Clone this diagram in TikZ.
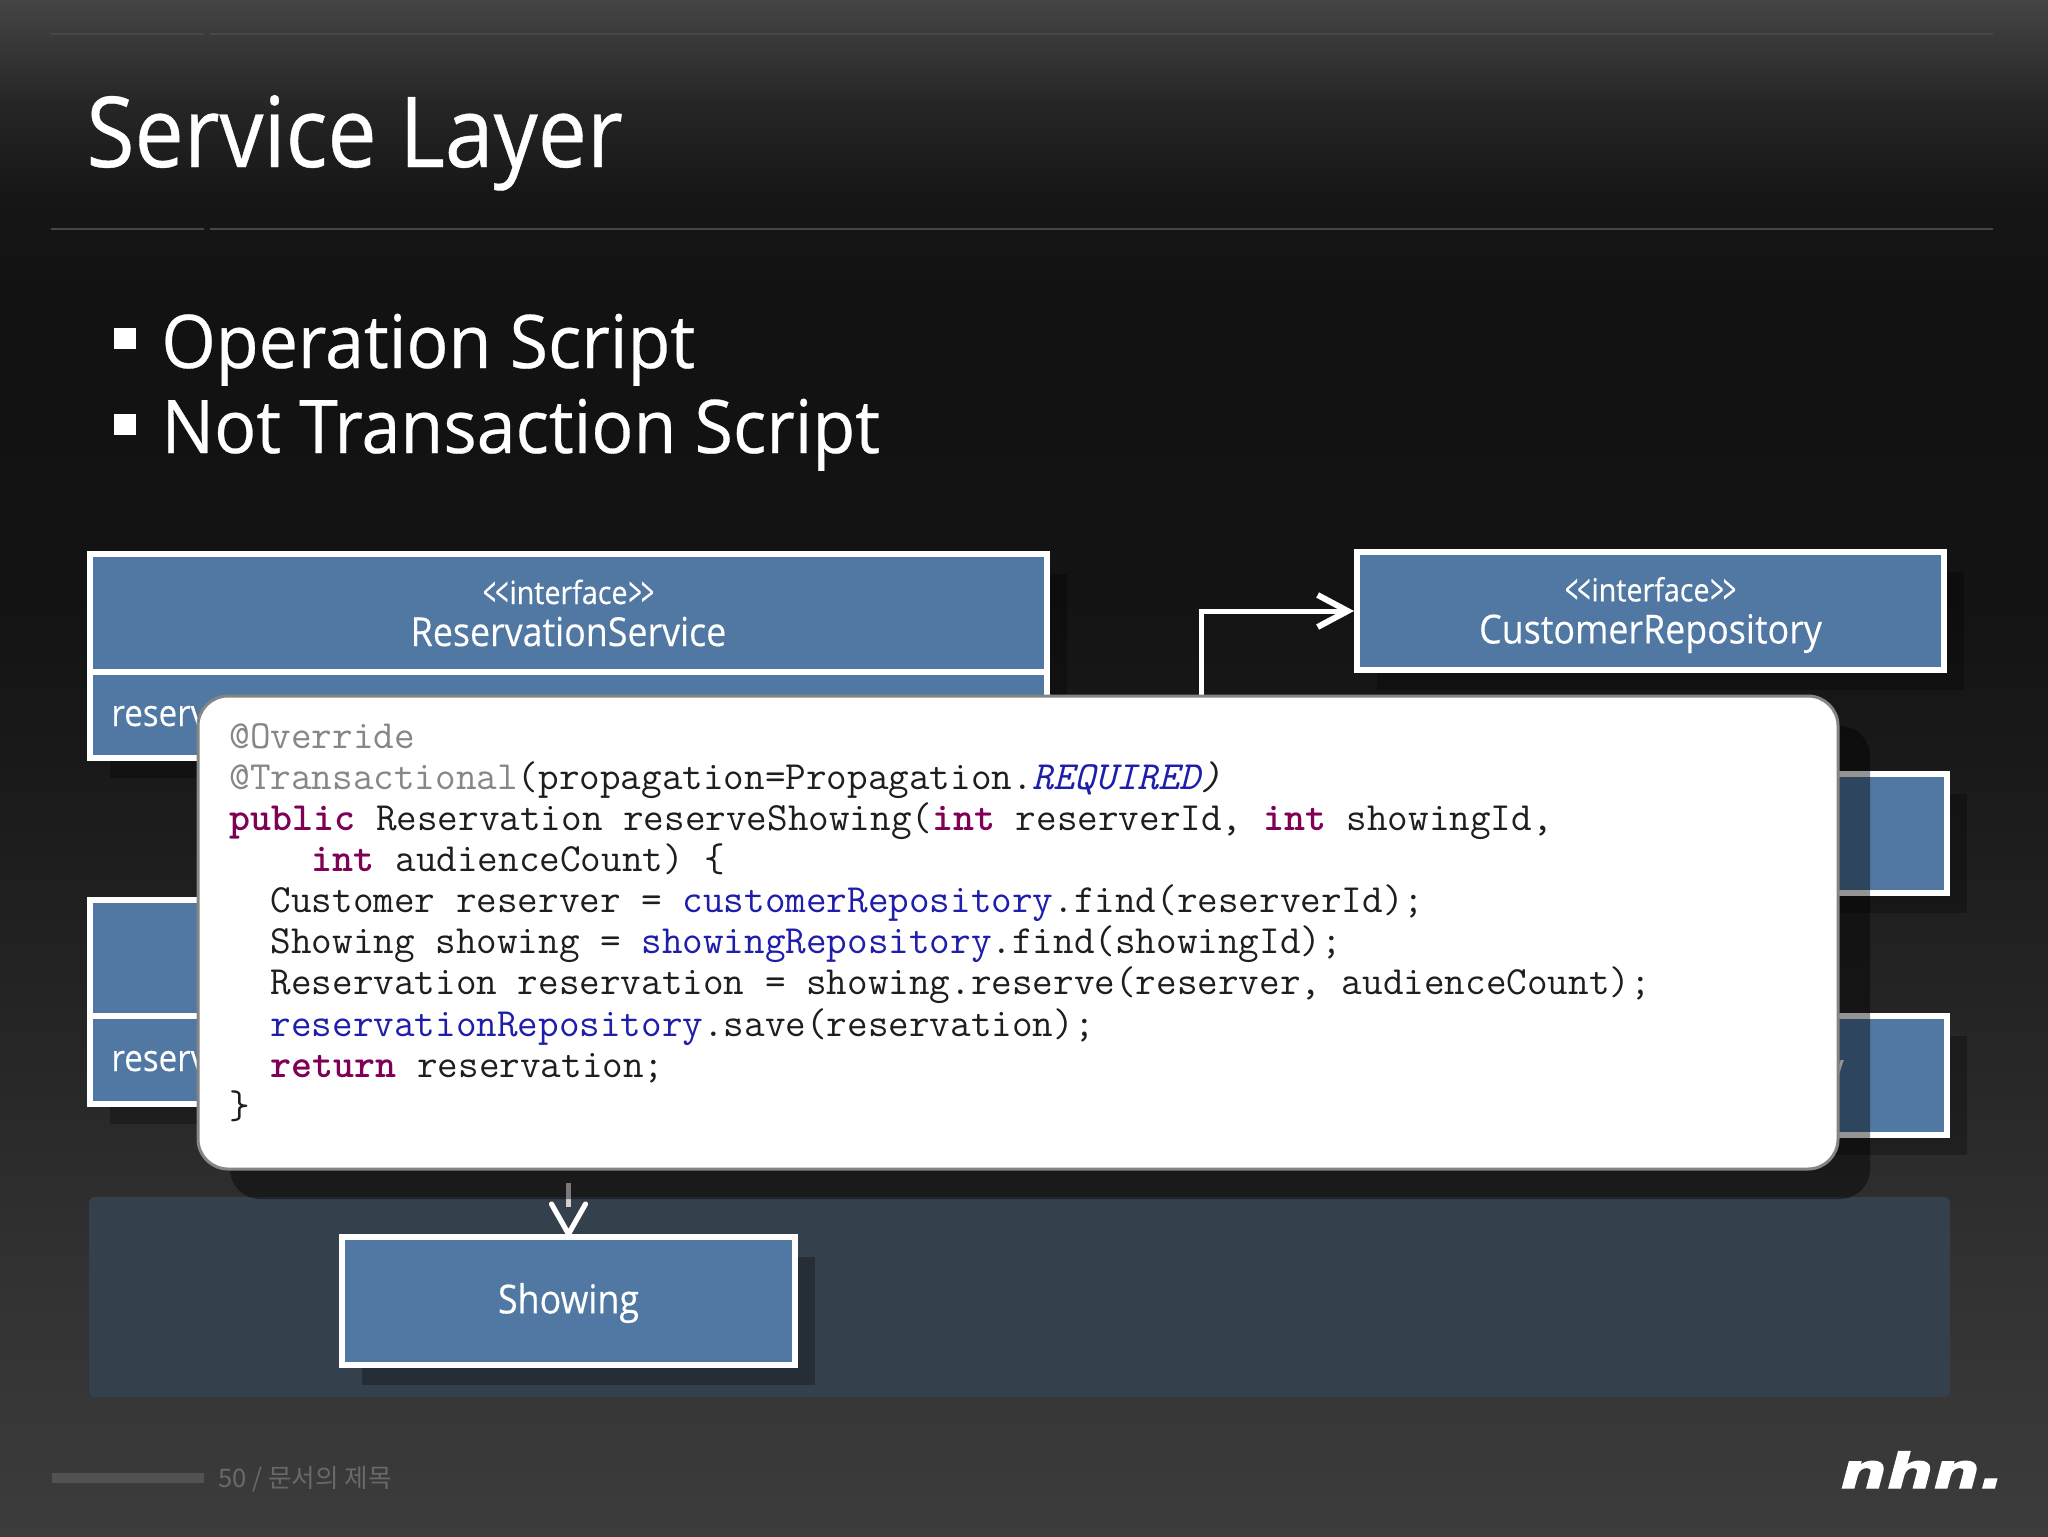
\documentclass[tikz,border=0pt]{standalone}
\usepackage{fontspec}
\usepackage{graphicx}
\setmainfont[FakeStretch=0.945,FakeBold=0.4]{Open Sans}
\newfontfamily\titlefont[FakeStretch=0.895,FakeBold=0.4]{Open Sans}
\newfontfamily\boxfont[FakeStretch=0.895,FakeBold=0.25]{Open Sans}
\newfontfamily\cjkfont{Noto Sans CJK KR}
\newfontfamily\logofont[FakeStretch=1.36,FakeBold=2.6]{DejaVu Sans}
\usetikzlibrary{positioning,arrows.meta,shadows}
\definecolor{boxblue}{RGB}{80,120,162}
\definecolor{bandblue}{RGB}{52,64,76}
\definecolor{kwcolor}{RGB}{127,0,85}
\definecolor{fieldcolor}{RGB}{30,30,170}
\definecolor{anncolor}{RGB}{135,135,135}
\definecolor{codecolor}{RGB}{30,30,30}
\pgfdeclareverticalshading{slidebg}{100bp}{rgb(0bp)=(.235,.235,.235); rgb(25bp)=(.235,.235,.235); rgb(32.7bp)=(.2,.2,.2); rgb(39.2bp)=(.16,.16,.16); rgb(49bp)=(.105,.105,.105); rgb(55.5bp)=(.075,.075,.075); rgb(65.2bp)=(.07,.07,.07); rgb(68.5bp)=(.085,.085,.085); rgb(71.7bp)=(.15,.15,.15); rgb(73.9bp)=(.23,.23,.23); rgb(75bp)=(.27,.27,.27); rgb(100bp)=(.27,.27,.27)}
\tikzset{umlbox/.style={draw=white, line width=3pt, fill=boxblue, inner sep=0pt, drop shadow={shadow xshift=10pt, shadow yshift=-10pt, opacity=.27, fill=black}}}
\tikzset{boxlabel/.style={text=white, align=center, inner sep=0pt, font=\boxfont\fontsize{20}{21}\selectfont}}
\tikzset{slidetext/.style={text=white, anchor=base west, inner sep=0pt}}
\tikzset{bulletmark/.style={fill=white, inner sep=0pt, minimum width=11pt, minimum height=10.5pt}}
\tikzset{rulepart/.style={draw=black!72, line width=0.7pt}}
\tikzset{arr/.style={draw=white, ->, >={Straight Barb[length=15pt,width=16pt,line width=3pt]}, line width=2.5pt}}
\tikzset{stub/.style={draw=black!18, line width=2.8pt}}
\tikzset{openhead/.style={draw=white, line width=2.6pt, line cap=round}}
\tikzset{popupbox/.style={draw=black!48, line width=1.5pt, fill=white, rounded corners=15pt, drop shadow={shadow xshift=16pt, shadow yshift=-15pt, opacity=.42, fill=black}}}
\tikzset{codetext/.style={anchor=north west, inner sep=0pt, align=left, text=codecolor, font=\ttfamily\fontsize{20}{20.55}\selectfont}}
\newcommand{\chev}[1]{\raisebox{-1.5pt}{\scalebox{.62}[1]{\fontsize{21}{21}\selectfont #1}}}
\newcommand{\stereo}{{\fontsize{16}{20}\selectfont\chev{<}\kern-.5pt\chev{<}\kern.5pt interface\kern.5pt\chev{>}\kern-.5pt\chev{>}}}
\newcommand{\kw}[1]{\textcolor{kwcolor}{\textbf{#1}}}
\newcommand{\fld}[1]{\textcolor{fieldcolor}{#1}}
\newcommand{\ann}[1]{\textcolor{anncolor}{#1}}
\begin{document}
\begin{tikzpicture}[x=0.5pt,y=-0.5pt]
        \useasboundingbox (0,0) rectangle (2048,1536);
        \shade[shading=slidebg] (0,0) rectangle (2048,1536);
        % header rules
        \foreach \ry in {34,229} {
            \draw[rulepart] (51,\ry) -- (204,\ry);
            \draw[rulepart] (210,\ry) -- (1993,\ry);
        }
        \node[slidetext, font=\titlefont\fontsize{49}{54}\selectfont] (title) at (86,167) {Service Layer};
        \node[bulletmark] (bulletA) at (125,338.5) {};
        \node[bulletmark] (bulletB) at (125,424) {};
        \node[slidetext, font=\fontsize{37}{40}\selectfont] (opScript) at (161,368) {Operation Script};
        \node[slidetext, font=\fontsize{37}{40}\selectfont] (txScript) at (161,453) {Not Transaction Script};

        \fill[bandblue, rounded corners=3pt] (89,1197) rectangle (1950,1397);

        % boxes, most of them under the popup
        \node[umlbox, minimum width=478.5pt, minimum height=59pt] (svcHead) at (568.5,613) {};
        \node[umlbox, minimum width=478.5pt, minimum height=43pt, below=-3pt of svcHead] (svcBody) {};
        \node[boxlabel] (svcLabel) at (568.5,613) {\stereo\\ReservationService};
        \node[umlbox, minimum width=478.5pt, minimum height=58.25pt] (implHead) at (568.5,957.75) {};
        \node[umlbox, minimum width=478.5pt, minimum height=43.75pt, below=-3pt of implHead] (implBody) {};
        \node[slidetext, font=\boxfont\fontsize{18.5}{20}\selectfont] (svcOp) at (111,726) {reserv};
        \node[slidetext, font=\boxfont\fontsize{18.5}{20}\selectfont] (implOp) at (111,1071) {reserv};
        \node[umlbox, minimum width=293.5pt, minimum height=59pt] (custRepo) at (1650.5,611) {};
        \node[boxlabel] (custLabel) at (1650.5,615) {\stereo\\CustomerRepository};
        \node[umlbox, minimum width=295pt, minimum height=59.5pt] (showRepo) at (1652,833.5) {};
        \node[umlbox, minimum width=295pt, minimum height=59.5pt] (resvRepo) at (1652,1075.5) {};
        \node[slidetext, font=\boxfont\fontsize{18.5}{20}\selectfont, anchor=base east] (resvTail) at (1844,1080) {y};
        \node[umlbox, minimum width=226.5pt, minimum height=64pt] (showing) at (568.5,1301) {};
        \node[boxlabel] (showLabel) at (568.5,1303) {Showing};

        \coordinate (custFrom) at (1201,800);
        \coordinate (showFrom) at (568.5,1183);
        \coordinate (showGate) at (568.5,1207);
        \draw[arr] (custFrom) |- (custRepo.west);
        \draw[stub] (showFrom) -- (showGate);
        \draw[openhead] ([shift={(-17,-30)}]showing.north) -- (showing.north) -- ([shift={(17,-30)}]showing.north);

        \node[popupbox, minimum width=820pt, minimum height=236.5pt] (popup) at (1018,932.5) {};
        \node[codetext] (code) at (229,723) {\ann{@Override}\\
            \ann{@Transactional}(propagation=Propagation.\textit{\fld{REQUIRED})}\\
            \kw{public} Reservation reserveShowing(\kw{int} reserverId, \kw{int} showingId,\\
            ~~~~\kw{int} audienceCount) \{\\
            ~~Customer reserver = \fld{customerRepository}.find(reserverId);\\
            ~~Showing showing = \fld{showingRepository}.find(showingId);\\
            ~~Reservation reservation = showing.reserve(reserver, audienceCount);\\
            ~~\fld{reservationRepository}.save(reservation);\\
            ~~\kw{return} reservation;\\
            \}};

        \fill[black!68] (52,1473) rectangle (204,1483);
        \node[slidetext, text=black!59, font=\cjkfont\fontsize{12.8}{14}\selectfont] (pageNo) at (218,1487) {50 / 문서의 제목};
        \node[slidetext, font=\logofont\bfseries\itshape\fontsize{24}{26}\selectfont] (logo) at (1840,1488) {nhn.};
    \end{tikzpicture}
\end{document}
